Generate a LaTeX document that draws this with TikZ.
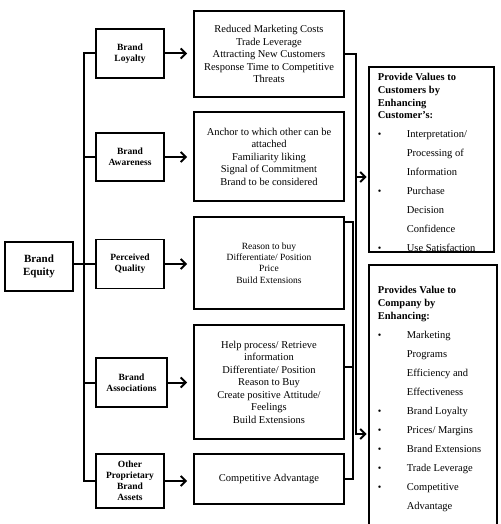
\documentclass[tikz,border=0pt]{standalone}
\usepackage{fontspec}
\setmainfont{Liberation Serif}
\usetikzlibrary{arrows.meta}
\newcommand{\blt}{\makebox[29pt][l]{{\fontsize{10}{10}\selectfont •}}}
\newcommand{\ind}{\hspace*{29pt}}
\begin{document}
\begin{tikzpicture}[x=1pt,y=-1pt,
  box/.style={draw, line width=1.7pt, inner sep=1pt, align=center},
  lbl/.style={box, font=\bfseries\fontsize{9.5}{11}\selectfont, minimum width=68pt},
  mid/.style={box, font=\fontsize{10.5}{12.5}\selectfont, minimum width=150pt},
  outbox/.style={draw, line width=1.7pt, inner sep=0pt},
  rtext/.style={anchor=north west, inner sep=0pt},
  conn/.style={line width=2pt},
  arr/.style={conn, -{Straight Barb[length=5pt,width=10pt]}}
]
\useasboundingbox (0,0) rectangle (500,524);
\fill[white] (0,0) rectangle (500,524);

% left column
\node[box, font=\bfseries\fontsize{11}{12.7}\selectfont, minimum width=68pt, minimum height=49pt] (eq) at (39,266.5) {Brand\\Equity};
\node[lbl, minimum height=49pt] (loy) at (130,53.5) {Brand\\Loyalty};
\node[lbl, minimum height=48pt] (awa) at (130,157) {Brand\\Awareness};
\node[lbl, minimum height=49pt] (qua) at (130,264) {Perceived\\Quality};
\node[lbl, minimum height=49pt, minimum width=71pt] (ass) at (131.5,382.5) {Brand\\Associations};
\node[lbl, minimum height=54pt] (oth) at (130,481) {Other\\Proprietary\\Brand\\Assets};

% middle column
\node[mid, minimum height=86pt] (m1) at (269,54) {Reduced Marketing Costs\\Trade Leverage\\Attracting New Customers\\Response Time to Competitive\\Threats};
\node[mid, minimum height=89pt] (m2) at (269,156.5) {Anchor to which other can be\\attached\\Familiarity liking\\Signal of Commitment\\Brand to be considered};
\node[mid, minimum height=92pt, font=\fontsize{9.5}{11.3}\selectfont] (m3) at (269,263) {Reason to buy\\Differentiate/ Position\\Price\\Build Extensions};
\node[mid, minimum height=114pt] (m4) at (269,382) {Help process/ Retrieve\\information\\Differentiate/ Position\\Reason to Buy\\Create positive Attitude/\\Feelings\\Build Extensions};
\node[mid, minimum height=50pt] (m5) at (269,479) {Competitive Advantage};

% right column
\node[outbox, minimum width=125pt, minimum height=185pt] (cust) at (431.5,159.5) {};
\node[outbox, minimum width=128pt, minimum height=265pt] (comp) at (433,397.5) {};

\node[rtext] (custtxt) at (377.7,73.4) {\parbox[t]{115pt}{\raggedright
  \bfseries\fontsize{10.5}{12.7}\selectfont Provide Values to\\Customers by\\Enhancing\\Customer’s:\par
  \mdseries\fontsize{10.5}{19}\selectfont
  \blt Interpretation/\\\ind Processing of\\\ind Information\\
  \blt Purchase\\\ind Decision\\\ind Confidence\\
  \blt Use Satisfaction\par}};

\node[rtext] (comptxt) at (377.7,286.4) {\parbox[t]{118pt}{\raggedright
  \bfseries\fontsize{10.5}{12.6}\selectfont Provides Value to\\Company by\\Enhancing:\par
  \mdseries\fontsize{10.5}{19}\selectfont
  \blt Marketing\\\ind Programs\\\ind Efficiency and\\\ind Effectiveness\\
  \blt Brand Loyalty\\
  \blt Prices/ Margins\\
  \blt Brand Extensions\\
  \blt Trade Leverage\\
  \blt Competitive\\\ind Advantage\par}};

% trunk on the left
\coordinate (tb) at (84,481);
\draw[conn] (loy.west) -| (tb) -- (oth.west);
\draw[conn] (awa.west) -- (awa.west -| tb);
\draw[conn] (qua.west) -- (qua.west -| tb);
\draw[conn] (ass.west) -- (ass.west -| tb);
\draw[conn] (eq.east |- qua.west) -- (qua.west);

% arrows left to middle
\draw[arr, shorten >=6pt] (loy.east) -- (loy.east -| m1.west);
\draw[arr, shorten >=6pt] (awa.east) -- (awa.east -| m2.west);
\draw[arr, shorten >=6pt] (qua.east) -- (qua.east -| m3.west);
\draw[arr, shorten >=6pt] (ass.east) -- (ass.east -| m4.west);
\draw[arr, shorten >=6pt] (oth.east) -- (oth.east -| m5.west);

% right side collectors
\coordinate (rR) at (356,434);
\coordinate (rL) at (352.5,479);
\coordinate (cA) at (356,177);
\draw[arr, shorten >=1.5pt] (m1.east) -| (rR) -- (rR -| comp.west);
\draw[arr, shorten >=1.5pt] (cA) -- (cA -| cust.west);
\draw[conn] ([yshift=-6pt]m3.north east) -| (rL) -- (m5.east);
\draw[conn] ([yshift=-43pt]m4.north east) -- ([yshift=-43pt]m4.north east -| rL);
\end{tikzpicture}
\end{document}
